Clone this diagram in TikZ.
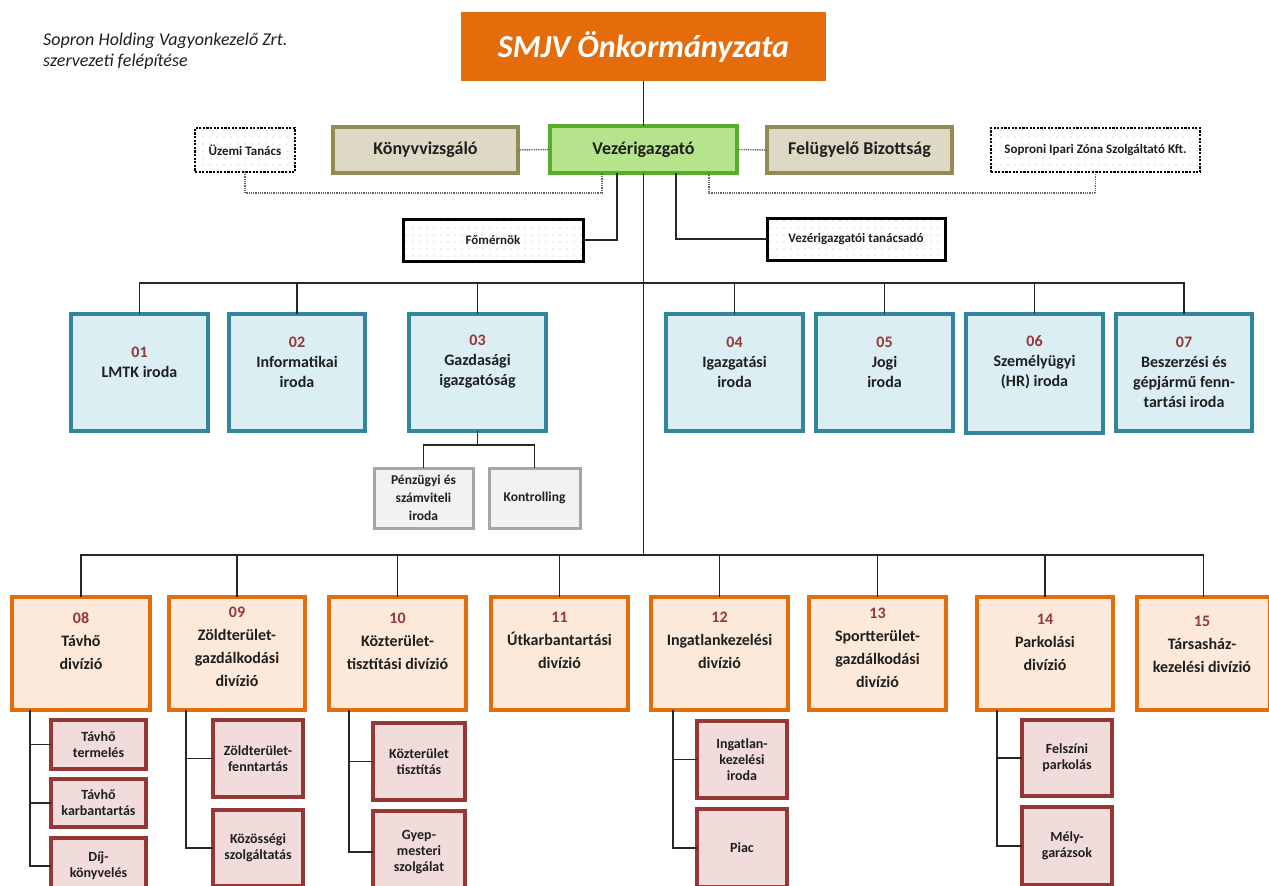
\documentclass[tikz,border=0pt]{standalone}
\usepackage{fontspec}
\setmainfont{Carlito}
\usetikzlibrary{patterns.meta}
\definecolor{smjvOr}{HTML}{E46C0A}
\definecolor{grFill}{HTML}{B5E48C}
\definecolor{grLine}{HTML}{56AE2A}
\definecolor{tanFill}{HTML}{DDD9C4}
\definecolor{tanLine}{HTML}{948A54}
\definecolor{blueFill}{HTML}{DAEEF3}
\definecolor{blueLine}{HTML}{31859C}
\definecolor{orFill}{HTML}{FDE9D9}
\definecolor{orLine}{HTML}{E46C0A}
\definecolor{redFill}{HTML}{F2DCDB}
\definecolor{redLine}{HTML}{953735}
\definecolor{grayFill}{HTML}{F2F2F2}
\definecolor{grayLine}{HTML}{A6A6A6}
\definecolor{numRed}{HTML}{953735}
\definecolor{txt}{HTML}{1F1F1F}
\newcommand\orgbox[7]{\node[#1, minimum width={(#5-#3-4)*1pt}, minimum height={(#6-#4-4)*1pt}] (#2) at ({(#3+#5)/2},{(#4+#6)/2}) {#7};}
\newcommand\nm[1]{\textcolor{numRed}{#1}}
\begin{document}
\begin{tikzpicture}[x=1pt,y=-1pt,
  bx/.style={rectangle, inner sep=0pt, outer sep=0pt, align=center, text=txt},
  smjvbox/.style={bx, fill=smjvOr, text=white, font=\fontsize{32}{38}\selectfont\bfseries\itshape},
  vezbox/.style={bx, fill=grFill, draw=grLine, line width=4pt, font=\fontsize{18}{22}\selectfont\bfseries},
  tanbox/.style={bx, fill=tanFill, draw=tanLine, line width=4pt, font=\fontsize{18}{22}\selectfont\bfseries},
  dotbox/.style={bx, draw=black, line width=2.8pt, dash pattern=on 2.2pt off 1.4pt, pattern={Dots[distance=7pt,radius=0.6pt]}, pattern color=black!30, font=\fontsize{13}{16}\selectfont\bfseries},
  solbox/.style={bx, draw=black, line width=3pt, pattern={Dots[distance=7pt,radius=0.6pt]}, pattern color=black!30, font=\fontsize{13}{16}\selectfont\bfseries},
  bluebox/.style={bx, fill=blueFill, draw=blueLine, line width=4pt},
  orbox/.style={bx, fill=orFill, draw=orLine, line width=4pt},
  redbox/.style={bx, fill=redFill, draw=redLine, line width=4pt, font=\fontsize{14}{16}\selectfont\bfseries},
  graybox/.style={bx, fill=grayFill, draw=grayLine, line width=3pt, font=\fontsize{13.5}{18}\selectfont\bfseries},
  bluetxt/.style={align=center, inner sep=0pt, text=txt, font=\fontsize{16}{20}\selectfont\bfseries},
  ortxt/.style={align=center, inner sep=0pt, text=txt, font=\fontsize{16}{23}\selectfont\bfseries},
  conn/.style={draw=black!85, line width=1.8pt},
  dotconn/.style={draw=black!60, line width=1.4pt, dash pattern=on 1pt off 0.8pt}
]
\clip (0,0) rectangle (1269,886);
\fill[white] (0,0) rectangle (1269,886);

\node[anchor=north west, align=left, inner sep=0pt, text=txt, font=\fontsize{18}{21}\selectfont\itshape] (title) at (43,33) {Sopron Holding Vagyonkezelő Zrt.\\szervezeti felépítése};

% top
\orgbox{smjvbox}{smjv}{459}{10}{828}{83}{SMJV Önkormányzata}
\orgbox{dotbox}{uzemi}{193}{126}{297}{174}{Üzemi Tanács}
\orgbox{tanbox}{konyv}{331}{125}{520}{175}{Könyvvizsgáló}
\orgbox{vezbox}{vez}{548}{124}{739}{175}{Vezérigazgató}
\orgbox{tanbox}{felu}{765}{125}{954}{175}{Felügyelő Bizottság}
\orgbox{dotbox}{sipz}{989}{126}{1202}{174}{Soproni Ipari Zóna Szolgáltató Kft.}
\orgbox{solbox}{fomer}{401}{217}{585}{263}{Főmérnök}
\orgbox{solbox}{tanad}{765}{216}{947}{262}{Vezérigazgatói tanácsadó}

% offices
\orgbox{bluebox}{n01}{69}{312}{210}{433}{}
\orgbox{bluebox}{n02}{227}{312}{367}{433}{}
\orgbox{bluebox}{n03}{407}{312}{548}{433}{}
\orgbox{bluebox}{n04}{664}{312}{805}{433}{}
\orgbox{bluebox}{n05}{814}{312}{955}{433}{}
\orgbox{bluebox}{n06}{964}{312}{1105}{435}{}
\orgbox{bluebox}{n07}{1114}{312}{1254}{433}{}
\node[bluetxt] (t01) at (139.5,362) {\nm{01}\\LMTK iroda};
\node[bluetxt] (t02) at (297,362) {\nm{02}\\Informatikai\\iroda};
\node[bluetxt] (t03) at (477.5,362) {\nm{03}\\Gazdasági\\igazgatóság};
\node[bluetxt] (t04) at (734.5,362) {\nm{04}\\Igazgatási\\iroda};
\node[bluetxt] (t05) at (884.5,362) {\nm{05}\\Jogi\\iroda};
\node[bluetxt] (t06) at (1034.5,362) {\nm{06}\\Személyügyi\\(HR) iroda};
\node[bluetxt] (t07) at (1184,372) {\nm{07}\\Beszerzési és\\gépjármű fenn-\\tartási iroda};

\orgbox{graybox}{s03a}{372}{466}{475}{530}{Pénzügyi és\\számviteli\\iroda}
\orgbox{graybox}{s03b}{487}{466}{582}{530}{Kontrolling}

% divisions
\orgbox{orbox}{n08}{10}{595}{152}{712}{}
\orgbox{orbox}{n09}{167}{595}{307}{712}{}
\orgbox{orbox}{n10}{327}{595}{468}{712}{}
\orgbox{orbox}{n11}{489}{595}{630}{712}{}
\orgbox{orbox}{n12}{649}{595}{790}{712}{}
\orgbox{orbox}{n13}{807}{595}{948}{712}{}
\orgbox{orbox}{n14}{975}{595}{1115}{712}{}
\orgbox{orbox}{n15}{1135}{595}{1272}{712}{}
\node[ortxt] (t08) at (81,641) {\nm{08}\\Távhő\\divízió};
\node[ortxt] (t09) at (237,647) {\nm{09}\\Zöldterület-\\gazdálkodási\\divízió};
\node[ortxt] (t10) at (397.5,641) {\nm{10}\\Közterület-\\tisztítási divízió};
\node[ortxt] (t11) at (559.5,640) {\nm{11}\\Útkarbantartási\\divízió};
\node[ortxt] (t12) at (719.5,640) {\nm{12}\\Ingatlankezelési\\divízió};
\node[ortxt] (t13) at (877.5,648) {\nm{13}\\Sportterület-\\gazdálkodási\\divízió};
\node[ortxt] (t14) at (1045,642) {\nm{14}\\Parkolási\\divízió};
\node[ortxt] (t15) at (1202,644) {\nm{15}\\Társasház-\\kezelési divízió};

% sub units
\orgbox{redbox}{s08a}{49}{718}{148}{771}{Távhő\\termelés}
\orgbox{redbox}{s08b}{49}{777}{148}{829}{Távhő\\karbantartás}
\orgbox{redbox}{s08c}{49}{836}{148}{896}{Díj-\\könyvelés}
\orgbox{redbox}{s09a}{211}{718}{305}{799}{Zöldterület-\\fenntartás}
\orgbox{redbox}{s09b}{211}{808}{305}{888}{Közösségi\\szolgáltatás}
\orgbox{redbox}{s10a}{371}{721}{467}{802}{Közterület\\tisztítás}
\orgbox{redbox}{s10b}{371}{809}{467}{895}{Gyep-\\mesteri\\szolgálat}
\orgbox{redbox}{s12a}{695}{719}{789}{800}{Ingatlan-\\kezelési\\iroda}
\orgbox{redbox}{s12b}{695}{807}{789}{889}{Piac}
\orgbox{redbox}{s14a}{1020}{718}{1114}{798}{Felszíni\\parkolás}
\orgbox{redbox}{s14b}{1020}{805}{1114}{887}{Mély-\\garázsok}

% coordinates
\coordinate (barA) at (0,283);
\coordinate (barB) at (0,555);
\coordinate (dotbar) at (0,193);
\coordinate (bar03) at (0,445);
\coordinate (vezL) at ([xshift=52pt]vez.south west);
\coordinate (vezR) at ([xshift=-28pt]vez.south east);
\coordinate (vezF) at ([xshift=67pt]vez.south west);
\coordinate (vezT) at ([xshift=-61pt]vez.south east);
\coordinate (v08) at (30,0);
\coordinate (v09) at (186,0);
\coordinate (v10) at (349,0);
\coordinate (v12) at (673,0);
\coordinate (v14) at (997,0);

% connectors
\draw[conn] (vez.north |- smjv.south) -- (vez.north);
\draw[conn] (vez.south) -- (vez.south |- barB);
\draw[dotconn] (konyv.east) -- (vez.west);
\draw[dotconn] (vez.east) -- (felu.west);
\draw[dotconn] (uzemi.south) -- (uzemi.south |- dotbar) -- (vezL |- dotbar) -- (vezL);
\draw[dotconn] (sipz.south) -- (sipz.south |- dotbar) -- (vezR |- dotbar) -- (vezR);
\draw[conn] (vezF) |- (fomer.east);
\draw[conn] (vezT) |- (tanad.west);

\draw[conn] (n01.north) -- (n01.north |- barA) -- (n07.north |- barA) -- (n07.north);
\foreach \n in {n02,n03,n04,n05,n06} \draw[conn] (\n.north) -- (\n.north |- barA);

\draw[conn] (n03.south) -- (n03.south |- bar03);
\draw[conn] (s03a.north) -- (s03a.north |- bar03) -- (s03b.north |- bar03) -- (s03b.north);

\draw[conn] (n08.north) -- (n08.north |- barB) -- (n15.north |- barB) -- (n15.north);
\foreach \n in {n09,n10,n11,n12,n13,n14} \draw[conn] (\n.north) -- (\n.north |- barB);

\draw[conn] (v08 |- n08.south) |- (s08c.west);
\draw[conn] (v08 |- s08a.west) -- (s08a.west);
\draw[conn] (v08 |- s08b.west) -- (s08b.west);
\draw[conn] (v09 |- n09.south) |- (s09b.west);
\draw[conn] (v09 |- s09a.west) -- (s09a.west);
\draw[conn] (v10 |- n10.south) |- (s10b.west);
\draw[conn] (v10 |- s10a.west) -- (s10a.west);
\draw[conn] (v12 |- n12.south) |- (s12b.west);
\draw[conn] (v12 |- s12a.west) -- (s12a.west);
\draw[conn] (v14 |- n14.south) |- (s14b.west);
\draw[conn] (v14 |- s14a.west) -- (s14a.west);
\end{tikzpicture}
\end{document}
